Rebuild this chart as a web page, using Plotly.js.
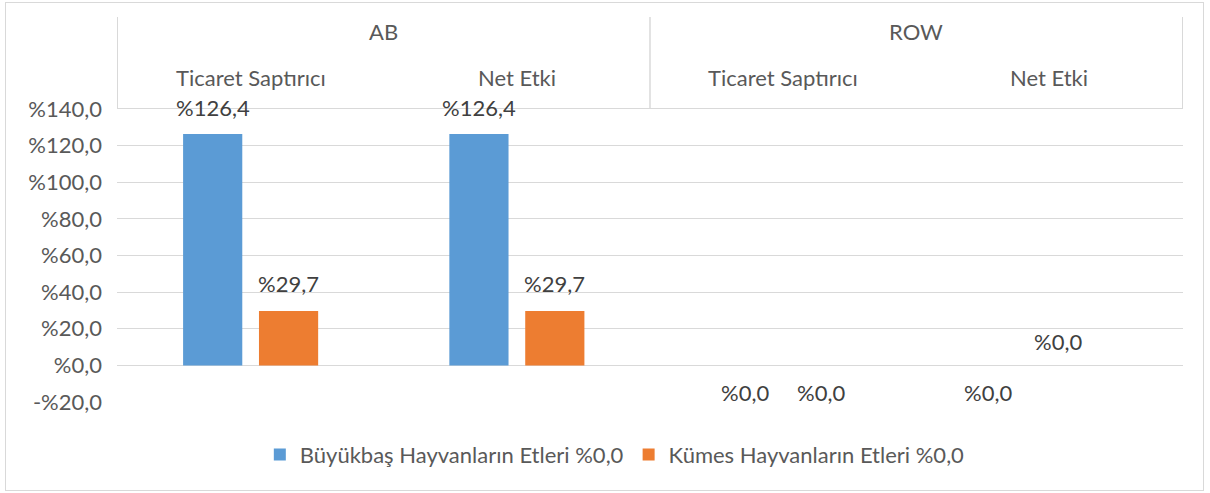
<!DOCTYPE html>
<html><head><meta charset="utf-8">
<script src="https://cdn.plot.ly/plotly-3.0.1.min.js"></script>
<style>
body{margin:0;background:#fff;}
#frame{position:absolute;left:5px;top:2px;width:1197px;height:487px;border:1px solid #d9d9d9;}
#chart{position:absolute;left:0;top:0;width:1210px;height:493px;}
</style></head>
<body><div id="frame"></div><div id="chart"></div>
<script>
const groups = ['AB','AB','ROW','ROW'];
const effects = ['Ticaret Saptırıcı','Net Etki','Ticaret Saptırıcı','Net Etki'];
const seriesNames = ['Büyükbaş Hayvanların Etleri %0,0','Kümes Hayvanların Etleri %0,0'];
const buyukbas = [126.4, 126.4, 0.0, 0.0];
const kumes = [29.7, 29.7, 0.0, 0.0];
const yTicks = [-20, 0, 20, 40, 60, 80, 100, 120, 140];

const fmt = v => (v < 0 ? '-%' : '%') + Math.abs(v).toFixed(1).replace('.', ',');
const colors = ['#5b9bd5', '#ed7d31'];
const font = 'Lato, "Open Sans", sans-serif';
const txt = '#595959';
const fs = 22;

const series = [buyukbas, kumes];
const traces = series.map((vals, s) => ({
  type: 'bar', name: seriesNames[s], x: [groups, effects], y: vals,
  marker: {color: colors[s]}, hoverinfo: 'none'
}));

// data labels, with pixel offsets mimicking the original placement
const labelShift = [
  [[0,26],[0,26],[0,-27],[-23,-27]],
  [[0,27],[0,27],[0,-27],[-29,24]]
];
const annotations = [];
series.forEach((vals, s) => vals.forEach((v, i) => {
  annotations.push({
    x: i, y: v, xref: 'x', yref: 'y', text: fmt(v), showarrow: false,
    xanchor: 'center', yanchor: 'middle',
    xshift: (s === 0 ? -38 : 38) + labelShift[s][i][0], yshift: labelShift[s][i][1],
    font: {family: font, size: fs, color: '#404040'}
  });
}));

// two-level category header on top
effects.forEach((e, i) => annotations.push({
  x: i, y: 1, xref: 'x', yref: 'paper', yshift: 32, text: e, showarrow: false,
  xanchor: 'center', yanchor: 'middle', font: {family: font, size: fs, color: txt}
}));
const outer = [...new Set(groups)];
const shapes = [];
outer.forEach(g => {
  const idx = groups.map((v, i) => v === g ? i : -1).filter(i => i >= 0);
  const lo = Math.min(...idx), hi = Math.max(...idx);
  annotations.push({
    x: (lo + hi) / 2, y: 1, xref: 'x', yref: 'paper', yshift: 78, text: g, showarrow: false,
    xanchor: 'center', yanchor: 'middle', font: {family: font, size: fs, color: txt}
  });
  [lo - 0.5, hi + 0.5].forEach(xb => shapes.push({
    type: 'line', xref: 'x', yref: 'paper', ysizemode: 'pixel', yanchor: 1,
    x0: xb, x1: xb, y0: 0, y1: 92, line: {color: '#d9d9d9', width: 1}
  }));
});

const layout = {
  width: 1210, height: 493,
  margin: {l: 117, r: 27, t: 109, b: 91},
  paper_bgcolor: 'rgba(0,0,0,0)', plot_bgcolor: 'rgba(0,0,0,0)',
  separators: ',.',
  font: {family: font, size: fs, color: txt},
  barmode: 'group', bargap: 0.43, bargroupgap: 0.22,
  xaxis: {
    type: 'multicategory', side: 'top', showgrid: false, showticklabels: false,
    showline: true, linecolor: '#d9d9d9', ticks: '', showdividers: false
  },
  yaxis: {
    range: [-20, 140], tickvals: yTicks, ticktext: yTicks.map(fmt),
    showgrid: true, gridcolor: '#d9d9d9', zeroline: true, zerolinecolor: '#d9d9d9',
    showline: false, ticks: '', ticklabelstandoff: 14,
    tickfont: {family: font, size: fs, color: txt}
  },
  showlegend: true,
  legend: {orientation: 'h', x: 0.467, xanchor: 'center', y: -0.18, yanchor: 'middle',
    font: {family: font, size: fs, color: txt}, itemwidth: 30},
  annotations: annotations,
  shapes: shapes
};
Plotly.newPlot('chart', traces, layout, {displayModeBar: false, staticPlot: true});
</script></body></html>
